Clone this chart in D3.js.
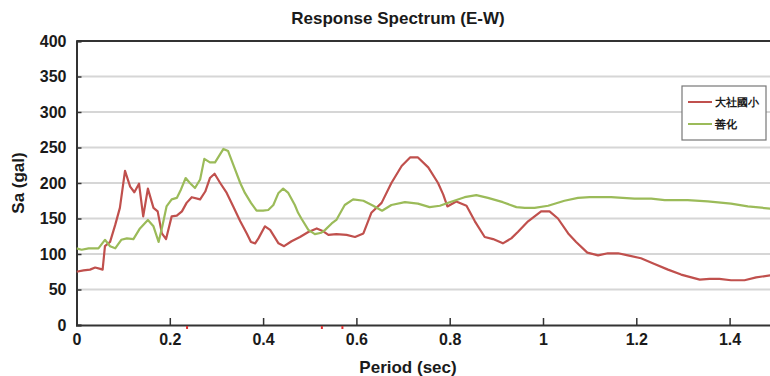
<!DOCTYPE html>
<html>
<head>
<meta charset="utf-8">
<script src="https://cdn.jsdelivr.net/npm/d3@7/dist/d3.min.js"></script>
<style>
  html, body { margin: 0; padding: 0; background: #fff; }
  svg { display: block; }
  text { font-family: "Liberation Sans", Arial, sans-serif; fill: #1a1a1a; }
</style>
</head>
<body>
<svg id="chart" width="770" height="376"></svg>
<script>
// Response spectrum, E-W component: period (sec) vs spectral acceleration Sa (gal)
const periodsDashe = [0.000,0.015,0.029,0.040,0.051,0.056,0.061,0.072,0.083,0.093,0.104,0.115,0.124,0.134,0.143,0.153,0.165,0.174,0.183,0.192,0.204,0.215,0.226,0.236,0.247,0.265,0.276,0.286,0.296,0.308,0.322,0.336,0.351,0.365,0.374,0.383,0.390,0.404,0.415,0.433,0.445,0.461,0.479,0.497,0.515,0.529,0.540,0.557,0.579,0.597,0.615,0.632,0.654,0.675,0.697,0.715,0.732,0.754,0.775,0.786,0.795,0.814,0.836,0.854,0.875,0.893,0.914,0.932,0.946,0.968,0.996,1.014,1.032,1.054,1.071,1.095,1.118,1.139,1.161,1.182,1.210,1.239,1.268,1.296,1.318,1.336,1.357,1.378,1.403,1.432,1.457,1.487];
const saDashe = [75,77,78,81,79,78,111,117,141,165,217,195,187,199,153,192,165,160,129,121,153,154,160,172,180,177,188,207,213,200,186,167,146,129,117,115,122,139,134,115,111,118,124,131,136,132,127,128,127,124,129,158,172,200,224,236,236,222,200,184,167,174,168,146,124,121,115,122,131,146,160,160,150,129,117,102,98,101,101,98,94,86,78,71,67,64,65,65,63,63,67,70];

const periodsShanhua = [0.000,0.011,0.026,0.047,0.061,0.072,0.083,0.096,0.108,0.122,0.136,0.153,0.165,0.176,0.184,0.193,0.204,0.215,0.224,0.234,0.243,0.254,0.265,0.274,0.286,0.297,0.315,0.325,0.336,0.351,0.361,0.374,0.386,0.400,0.411,0.422,0.433,0.443,0.454,0.468,0.475,0.482,0.497,0.511,0.525,0.533,0.547,0.557,0.575,0.593,0.615,0.636,0.655,0.675,0.704,0.732,0.757,0.779,0.800,0.832,0.857,0.882,0.914,0.943,0.961,0.982,1.011,1.046,1.075,1.100,1.146,1.196,1.232,1.261,1.310,1.353,1.403,1.439,1.487];
const saShanhua = [108,106,108,108,120,111,108,120,122,121,136,148,139,117,139,167,177,179,191,207,200,193,205,234,229,229,248,245,226,200,186,172,161,161,162,169,186,192,186,169,158,150,134,128,130,134,143,148,169,177,175,168,161,169,173,171,166,168,173,180,183,179,173,166,165,165,168,175,179,180,180,178,178,176,176,174,171,167,164];

const seriesNames = ["大社國小", "善化"];
const seriesColors = ["#c0504d", "#9bbb59"];

const xTicks = [0, 0.2, 0.4, 0.6, 0.8, 1, 1.2, 1.4];
const yTicks = [0, 50, 100, 150, 200, 250, 300, 350, 400];
const axisMarks = [0.237, 0.526, 0.570];

const titleText = "Response Spectrum (E-W)";
const xTitle = "Period (sec)";
const yTitle = "Sa (gal)";

const W = 770, H = 376;
const svg = d3.select("#chart");

const x = d3.scaleLinear().domain([0, 1.5]).range([76.5, 776.25]);
const y = d3.scaleLinear().domain([0, 400]).range([325, 41]);

svg.append("defs").append("clipPath").attr("id", "plot-clip")
  .append("rect").attr("x", x(0)).attr("y", y(400) - 2)
  .attr("width", W - x(0)).attr("height", y(0) - y(400) + 4);

// horizontal gridlines
svg.append("g").selectAll("line").data(yTicks.filter(v => v > 0 && v < 400)).join("line")
  .attr("x1", x(0)).attr("x2", W)
  .attr("y1", d => y(d)).attr("y2", d => y(d))
  .attr("stroke", "#d6d6d6").attr("stroke-width", 2);

// top frame line
svg.append("line").attr("x1", x(0)).attr("x2", W).attr("y1", y(400)).attr("y2", y(400))
  .attr("stroke", "#333").attr("stroke-width", 2);

// Y axis
const yAxis = svg.append("g").attr("transform", `translate(${x(0)},0)`)
  .call(d3.axisLeft(y).tickValues(yTicks).tickSize(-5).tickPadding(10).tickFormat(d3.format("d")));
yAxis.select(".domain").attr("stroke", "#333").attr("stroke-width", 2);
yAxis.selectAll(".tick line").attr("stroke", "#333").attr("stroke-width", 1.5);
yAxis.selectAll(".tick text").attr("font-size", 16).attr("font-weight", 700)
  .attr("font-family", "Liberation Sans, Arial, sans-serif").attr("fill", "#1a1a1a");

// X axis
const xAxis = svg.append("g").attr("transform", `translate(0,${y(0)})`)
  .call(d3.axisBottom(x).tickValues(xTicks).tickSize(-7).tickPadding(9).tickFormat(d => d3.format("")(d)));
xAxis.select(".domain").attr("stroke", "#333").attr("stroke-width", 2);
xAxis.selectAll(".tick line").attr("stroke", "#333").attr("stroke-width", 1.5);
xAxis.selectAll(".tick text").attr("font-size", 16).attr("font-weight", 700)
  .attr("font-family", "Liberation Sans, Arial, sans-serif").attr("fill", "#1a1a1a");

// small red marks under the period axis
svg.append("g").selectAll("rect").data(axisMarks).join("rect")
  .attr("x", d => x(d) - 1).attr("y", y(0) + 1).attr("width", 2).attr("height", 3)
  .attr("fill", "#e03030");

// spectra
const line = d3.line().x(d => x(d[0])).y(d => y(d[1]));
const series = [
  d3.zip(periodsDashe, saDashe),
  d3.zip(periodsShanhua, saShanhua)
];
const g = svg.append("g").attr("clip-path", "url(#plot-clip)");
g.selectAll("path").data(series).join("path")
  .attr("d", line)
  .attr("fill", "none")
  .attr("stroke", (d, i) => seriesColors[i])
  .attr("stroke-width", 2.2)
  .attr("stroke-linejoin", "round");

// title and axis titles
svg.append("text").attr("x", 398).attr("y", 24).attr("text-anchor", "middle")
  .attr("font-size", 17).attr("font-weight", 700).text(titleText);
svg.append("text").attr("x", 408).attr("y", 373).attr("text-anchor", "middle")
  .attr("font-size", 17).attr("font-weight", 700).text(xTitle);
svg.append("text").attr("transform", "translate(24,183) rotate(-90)").attr("text-anchor", "middle")
  .attr("font-size", 17).attr("font-weight", 700).text(yTitle);

// legend
const lg = svg.append("g").attr("transform", "translate(682,86)");
lg.append("rect").attr("width", 84).attr("height", 54)
  .attr("fill", "#fff").attr("stroke", "#777").attr("stroke-width", 1.2);
seriesNames.forEach((name, i) => {
  const yy = 16 + i * 22;
  lg.append("line").attr("x1", 6).attr("x2", 30).attr("y1", yy).attr("y2", yy)
    .attr("stroke", seriesColors[i]).attr("stroke-width", 2);
  lg.append("text").attr("x", 33).attr("y", yy + 4)
    .attr("font-family", "Noto Sans CJK TC, sans-serif").attr("font-size", 11).attr("font-weight", 700)
    .text(name);
});
</script>
</body>
</html>
